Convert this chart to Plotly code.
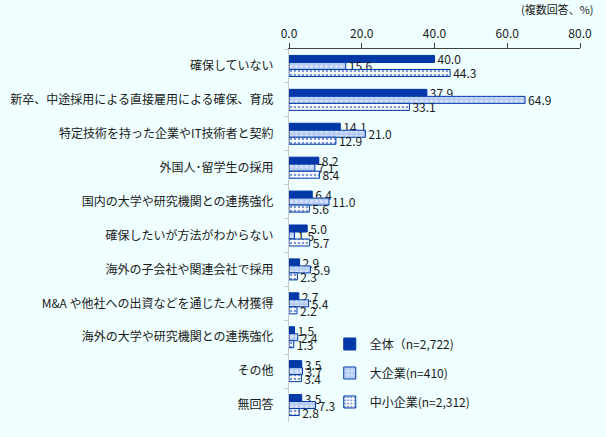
import plotly.graph_objects as go

# categories, top to bottom
categories = [
    "確保していない",
    "新卒、中途採用による直接雇用による確保、育成",
    "特定技術を持った企業やIT技術者と契約",
    "外国人･留学生の採用",
    "国内の大学や研究機関との連携強化",
    "確保したいが方法がわからない",
    "海外の子会社や関連会社で採用",
    "M&A や他社への出資などを通じた人材獲得",
    "海外の大学や研究機関との連携強化",
    "その他",
    "無回答",
]
all_firms = [40.0, 37.9, 14.1, 8.2, 6.4, 5.0, 2.9, 2.7, 1.5, 3.5, 3.5]
large_firms = [15.6, 64.9, 21.0, 7.1, 11.0, 1.5, 5.9, 5.4, 2.4, 3.7, 7.3]
sme_firms = [44.3, 33.1, 12.9, 8.4, 5.6, 5.7, 2.3, 2.2, 1.3, 3.4, 2.8]
series_names = ["全体（n=2,722)", "大企業(n=410)", "中小企業(n=2,312)"]
tick_vals = [0, 20, 40, 60, 80]

BLUE = "#0038A8"
BG = "#EFFFFF"
FONT = "Noto Sans CJK JP"

fig = go.Figure()

styles = [
    dict(color=BLUE, line=dict(color=BLUE, width=1)),
    dict(color="#B7CDF5", line=dict(color=BLUE, width=1),
         pattern=dict(shape=".", fgcolor="white", bgcolor="#B7CDF5", size=5, solidity=0.25)),
    dict(color="white", line=dict(color=BLUE, width=1),
         pattern=dict(shape=".", fgcolor=BLUE, bgcolor="white", size=4, solidity=0.35)),
]

for i, (name, vals, st) in enumerate(zip(series_names, [all_firms, large_firms, sme_firms], styles)):
    fig.add_trace(go.Bar(
        y=categories, x=vals, name=name, orientation="h",
        marker=st, legendgroup=f"g{i}",
        text=[f"{v:.1f}" for v in vals], textposition="outside",
        constraintext="none",
        textfont=dict(size=12, color="#1a1a1a", family=FONT),
        cliponaxis=False,
    ))

fig.update_layout(
    barmode="group",
    bargap=0.38,
    bargroupgap=0,
    width=606, height=437,
    paper_bgcolor=BG,
    plot_bgcolor=BG,
    font=dict(family=FONT, size=12, color="#1a1a1a"),
    margin=dict(l=289, r=26, t=49, b=15),
    showlegend=True,
    legend=dict(
        x=0.14, y=0.248, xanchor="left", yanchor="top",
        bgcolor="rgba(0,0,0,0)", font=dict(size=12, family=FONT),
        traceorder="grouped", itemwidth=30, tracegroupgap=10,
    ),
    annotations=[dict(
        text="(複数回答、%)", xref="paper", yref="paper", x=1.0, xshift=16, y=1.0, yshift=30,
        xanchor="right", yanchor="bottom", showarrow=False,
        font=dict(size=11, family=FONT),
    )],
)

fig.update_xaxes(
    side="top", range=[0, 80], tickvals=tick_vals,
    ticktext=[f"{v:.1f}" for v in tick_vals],
    showgrid=False, zeroline=False, automargin=False,
    showline=True, linecolor="#404040", linewidth=1,
    ticks="outside", ticklen=5, tickcolor="#404040",
    tickfont=dict(size=12, family=FONT),
)
fig.update_yaxes(
    autorange="reversed", showgrid=False, automargin=False,
    showline=True, linecolor="#C8C8C8", linewidth=1,
    ticks="outside", ticklen=4, tickcolor="#C8C8C8", tickson="boundaries",
    tickfont=dict(size=12, family=FONT),
    ticklabelstandoff=12,
)

fig.write_html(
    "out.html",
    config={"displayModeBar": False},
    post_script=f"document.body.style.margin='0';document.body.style.background='{BG}';",
)
